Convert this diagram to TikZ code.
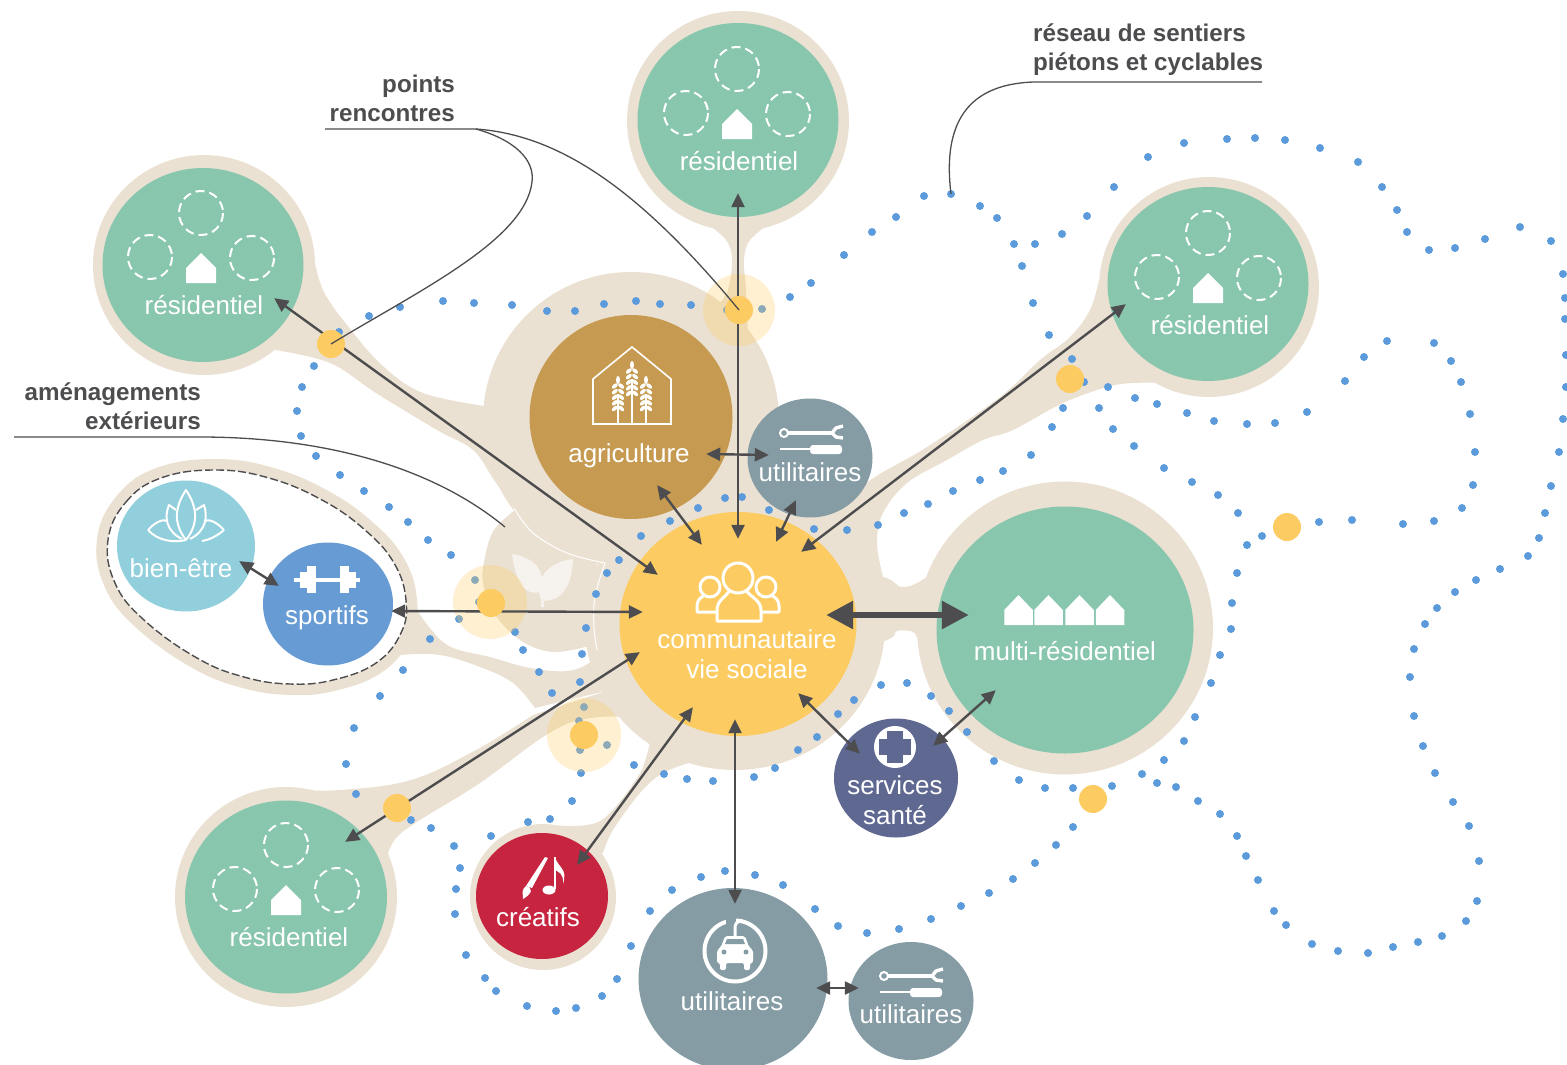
\documentclass[tikz,border=0pt]{standalone}
\usepackage{fontspec}
\setmainfont{Liberation Sans}
\usetikzlibrary{arrows.meta,shapes.geometric}

\definecolor{land}{HTML}{EBE1D2}
\definecolor{lawn}{HTML}{88C6AE}
\definecolor{sun}{HTML}{FCCC62}
\definecolor{farm}{HTML}{C69A50}
\definecolor{slate}{HTML}{859CA5}
\definecolor{navy}{HTML}{5E6891}
\definecolor{crimson}{HTML}{C7243F}
\definecolor{spa}{HTML}{92CFDD}
\definecolor{sport}{HTML}{669BD3}
\definecolor{trail}{HTML}{5B9BDC}
\definecolor{ink}{HTML}{4D4D4F}
\definecolor{leaf}{HTML}{F6F3EE}

\tikzset{
    disc/.style n args={3}{ellipse, inner sep=0pt, fill=#1, minimum width=#2pt, minimum height=#3pt},
    txt/.style={text=white, inner sep=0pt, align=center, font=\fontsize{26}{30}\selectfont},
    tag/.style={text=ink, inner sep=0pt, font=\fontsize{24.2}{29}\selectfont\bfseries},
    relay/.style={inner sep=0pt, minimum size=0pt},
    meet/.style={circle, inner sep=0pt, fill=sun, minimum size=28pt},
    both/.style={<->, >={Triangle[length=14pt,width=13pt]}, ink, line width=2.4pt},
    note/.style={ink, line width=1.3pt},
    house/.pic={\fill[white] (-15,14) -- (-15,-1) -- (0,-16) -- (15,-1) -- (15,14) -- cycle;},
    plots/.pic={
        \draw[white, line width=2pt, dash pattern=on 9pt off 5pt] (-1,-51) circle (22);
        \draw[white, line width=2pt, dash pattern=on 9pt off 5pt] (-52,-7) circle (22);
        \draw[white, line width=2pt, dash pattern=on 9pt off 5pt] (50,-6) circle (22);
        \pic at (-1,5) {house};
    },
    tools/.pic={
        \draw[white, line width=2pt] (-28,-8) circle (4);
        \draw[white, line width=4pt] (-24,-8) -- (21,-8);
        \draw[white, line width=3.4pt, line join=round] (31,-15) -- (24,-13) -- (20,-8) -- (24,-4) -- (31,-3);
        \draw[white, line width=2pt] (-32,8) -- (-2,8);
        \fill[white, rounded corners=3pt] (-2,4) rectangle (30,13);
    },
    wheat/.pic={
        \draw[white, line width=1.5pt] (0,-8) -- (0,22);
        \foreach \k in {0,...,4} {
            \fill[white, rotate around={40:(-3.2,-16+5.6*\k)}] (-3.2,-16+5.6*\k) ellipse [x radius=3.6, y radius=1.9];
            \fill[white, rotate around={-40:(3.2,-16+5.6*\k)}] (3.2,-16+5.6*\k) ellipse [x radius=3.6, y radius=1.9];
        }
        \fill[white] (0,-22) ellipse [x radius=2, y radius=4];
    },
}

\begin{document}
\begin{tikzpicture}[x=1pt, y=-1pt]
\useasboundingbox (0,0) rectangle (1567,1065);

    % land under the buildings
    \node[disc={land}{222}{220}] (resAlot) at (204,265) {};
    \node[disc={land}{222}{220}] (resBlot) at (738,121) {};
    \node[disc={land}{220}{220}] (resClot) at (1209,287) {};
    \node[disc={land}{222}{220}] (resDlot) at (286,897) {};
    \node[disc={land}{296}{293}] (multilot) at (1065,628) {};
    \node[disc={land}{296}{296}] (farmlot) at (631,420) {};
    \node[disc={land}{300}{290}] (commlot) at (735,625) {};
    \node[disc={land}{146}{146}] (creatlot) at (543,897) {};

    \fill[land] plot [smooth, tension=.6] coordinates {(312,247) (323,290) (351,330) (384,367) (423,393) (484,406)}
        -- (520,450) -- plot [smooth, tension=.6] coordinates {(514,508) (494,480) (473,450) (437,430) (376,393) (330,363) (275,350)} -- cycle;
    \fill[land] plot [smooth, tension=.6] coordinates {(705,222) (726,240) (732,260) (728,290) (718,305)}
        -- plot [smooth, tension=.6] coordinates {(748,335) (746,290) (744,260) (750,240) (772,222)} -- cycle;
    \fill[land] plot [smooth, tension=.6] coordinates {(1099,280) (1090,310) (1070,337) (1040,360) (1000,397) (927,447) (875,477) (830,510)}
        -- (820,590) -- plot [smooth, tension=.6] coordinates {(883,577) (877,543) (883,513) (907,483) (947,460) (983,440) (1013,430) (1063,403) (1107,387) (1133,383) (1170,383)} -- cycle;
    \fill[land] plot [smooth, tension=.7] coordinates {(830,570) (883,577) (903,587) (927,577) (945,560)}
        -- plot [smooth, tension=.7] coordinates {(945,650) (920,640) (913,632) (897,631) (887,640) (830,660)} -- cycle;
    \fill[land] plot [smooth, tension=.6] coordinates {(269,790) (340,790) (411,780) (476,750) (533,715)}
        -- (640,680) -- plot [smooth, tension=.6] coordinates {(650,738) (627,718) (580,720) (543,737) (480,783) (420,820) (397,837) (388,853)} -- (300,850) -- cycle;
    \fill[land] plot [smooth, tension=.6] coordinates {(547,825) (587,825) (610,813) (640,773) (650,742)}
        -- plot [smooth, tension=.6] coordinates {(692,762) (663,773) (640,793) (613,830) (603,853)} -- (560,860) -- cycle;
    \fill[land] plot [smooth, tension=.6] coordinates {(406,593) (429,627) (451,647) (490,657) (530,668) (567,671) (590,662) (593,647)}
        -- (610,690) -- plot [smooth, tension=.6] coordinates {(535,708) (513,683) (480,667) (440,655) (400,655) (380,660)} -- cycle;
    \fill[land] plot [smooth, tension=.6] coordinates {(515,510) (494,530) (485,557) (483,583) (494,613) (520,640) (553,652) (593,645)} -- (650,600) -- cycle;

    % loop around the wellness area
    \path[fill=white, preaction={draw=land, line width=22pt}, draw=ink, line width=1.4pt, dash pattern=on 8pt off 3pt]
        plot [smooth cycle, tension=.7] coordinates {(108,540) (126,502) (161,478) (215,470) (269,478) (322,500) (365,530) (394,563) (406,600) (401,633) (376,663) (333,680) (290,684) (244,677) (197,658) (144,620) (115,583)};

    \draw[white, line width=1pt] plot [smooth, tension=.6] coordinates {(514,508) (533,533) (567,553) (605,563)} -- plot [smooth, tension=.6] coordinates {(605,563) (595,597) (594,627) (597,650)};

    % leaves
    \fill[leaf] (512,554) .. controls (516,580) and (522,596) .. (541,592) .. controls (546,570) and (535,558) .. (512,554);
    \fill[leaf] (573,559) .. controls (548,562) and (533,580) .. (541,600) -- (541,607) -- (544,607) -- (544,601) .. controls (566,600) and (572,580) .. (573,559);

    % trail
    \foreach \x/\y in {369/316, 400/307, 443/301, 474/303, 512/305, 547/311, 575/311, 604/304, 636/301, 660/304, 691/305, 727/310, 762/309, 790/297, 811/283, 844/255, 872/232, 896/217, 924/196, 980/206, 997/218, 1014/244, 1035/244, 1062/234, 1087/216, 1114/187, 1148/157, 1184/143, 1227/139, 1255/138, 1285/140, 1320/148, 1358/162, 1382/187, 1397/210, 1407/232, 1429/250, 1455/248, 1485/239, 1520/227, 1551/241, 1563/274, 1565/298, 1565/319, 1566/355, 1566/387, 1563/419, 1559/452, 1551/486, 1545/513, 1539/538, 1528/556, 1500/569, 1476/580, 1455/592, 1437/608, 1425/624, 1414/649, 1410/677, 1414/716, 1423/746, 1435/773, 1453/802, 1469/826, 1479/861, 1477/901, 1466/921, 1442/936, 1418/942, 1393/947, 1368/953, 1338/951, 1312/944, 1286/925, 1274/911, 1258/880, 1246/856, 1237/836, 1220/814, 1198/801, 1176/787, 1157/783, 1142/774, 1164/760, 1184/741, 1195/717, 1211/683, 1220/655, 1231/629, 1232/603, 1237/573, 1247/545, 1262/536, 1319/522, 1352/520, 1403/524, 1434/521, 1462/508, 1473/485, 1475/452, 1470/414, 1461/382, 1451/361, 1434/343, 1387/341, 1364/357, 1345/381, 1307/412, 1275/423, 1247/424, 1214/421, 1187/413, 1157/404, 1135/398, 1108/387, 1084/382, 1072/359, 1049/335, 1033/303, 1022/266, 1063/408, 1099/408, 1052/427, 1113/429, 1134/446, 1164/468, 1192/482, 1218/495, 1238/513, 1031/455, 1003/471, 980/480, 953/491, 928/504, 904/513, 878/525, 847/530, 814/529, 769/510, 742/497, 725/498, 698/508, 670/521, 641/536, 619/560, 607/573, 596/594, 586/628, 582/654, 580/682, 552/693, 539/672, 523/650, 515/632, 459/619, 479/602, 475/580, 451/555, 428/540, 408/522, 389/507, 364/491, 340/475, 316/456, 301/436, 297/411, 302/387, 314/366, 339/332, 430/639, 403/670, 380/696, 354/728, 346/764, 356/794, 584/707, 579/721, 580/750, 607/745, 581/773, 634/765, 664/774, 687/779, 713/781, 754/777, 775/768, 798/750, 817/737, 838/714, 854/700, 881/685, 907/683, 931/696, 949/711, 967/732, 994/761, 1019/780, 1045/788, 1073/788, 1112/786, 1073/827, 1056/845, 1035/863, 1013/879, 989/893, 961/906, 931/919, 899/929, 867/933, 838/926, 815/909, 783/885, 755/875, 725/871, 701/877, 672/890, 650/911, 631/946, 617/979, 602/996, 576/1008, 556/1011, 527/1006, 496/991, 485/978, 466/955, 455/914, 456/889, 460/868, 454/846, 491/836, 528/822, 550/819, 572/801, 431/828, 411/820}
        \fill[trail] (\x,\y) circle (4);
    \node[circle, inner sep=0pt, fill=trail, minimum size=8pt] (trailstop) at (951,194) {};

    % halos
    \fill[sun, opacity=.3] (739,310) circle (36);
    \fill[sun, opacity=.3] (490,602) circle (37);
    \fill[sun, opacity=.3] (584,735) circle (37);

    % buildings
    \node[disc={lawn}{201}{194}] (resA) at (203,265) {};
    \node[disc={lawn}{201}{194}] (resB) at (738,120) {};
    \node[disc={lawn}{201}{194}] (resC) at (1208,284) {};
    \node[disc={lawn}{202}{193}] (resD) at (286,897) {};
    \node[disc={lawn}{257}{247}] (multi) at (1065,630) {};
    \node[disc={farm}{203}{204}] (farmhall) at (631,417) {};
    \node[disc={sun}{237}{224}] (comm) at (738,624) {};
    \node[disc={slate}{125}{119}] (toolsA) at (810,458) {};
    \node[disc={slate}{189}{182}] (garage) at (733,979) {};
    \node[disc={slate}{125}{118}] (toolsB) at (911,1001) {};
    \node[disc={navy}{124}{119}] (health) at (896,778) {};
    \node[disc={crimson}{132}{126}] (creat) at (542,896) {};
    \node[disc={spa}{138}{131}] (spa) at (186,546) {};
    \node[disc={sport}{130}{123}] (gym) at (328,604) {};

    % icons
    \pic at (202,264) {plots};
    \pic at (738,120) {plots};
    \pic at (1209,284) {plots};
    \pic at (287,896) {plots};
    \foreach \x in {1018.5,1048.5,1079.5,1110}
        \pic[xscale=.95] at (\x,611) {house};

    \draw[white, line width=1.6pt, line join=miter] (593,424) -- (593,379) -- (632,347) -- (671,379) -- (671,424) -- cycle;
    \pic at (618,402) {wheat};
    \pic at (632,387) {wheat};
    \draw[white, line width=1.5pt] (632,400) -- (632,424);
    \pic at (646,402) {wheat};
    \pic at (812,441) {tools};
    \pic at (912,984) {tools};

    \begin{scope}[white, line width=3pt, line join=round]
        \draw (710,587) circle (10);
        \draw (766,587) circle (10);
        \draw (717,612) -- (697,612) -- (697,606) .. controls (697,599) and (702,597) .. (705,595);
        \draw (759,612) -- (779,612) -- (779,606) .. controls (779,599) and (774,597) .. (771,595);
        \draw[fill=sun] (717,621) -- (717,610) .. controls (717,600) and (726,597) .. (730,590) -- (746,590) .. controls (750,597) and (761,600) .. (761,610) -- (761,621) -- cycle;
        \draw[fill=sun] (738,578) circle (15);
    \end{scope}

    \begin{scope}[white, line width=2pt, line join=round]
        \draw (186,540) .. controls (172,522) and (176,505) .. (186,490) .. controls (196,505) and (200,522) .. (186,540);
        \draw (182,539) .. controls (166,531) and (164,517) .. (169,505) -- (176,510);
        \draw (190,539) .. controls (206,531) and (208,517) .. (204,505) -- (196,510);
        \draw (148,530) .. controls (156,521) and (164,519) .. (167,521) (148,530) .. controls (158,541) and (174,543) .. (186,540);
        \draw (224,530) .. controls (216,521) and (208,519) .. (205,521) (224,530) .. controls (216,537) and (208,540) .. (202,541);
    \end{scope}

    % dumbbell
    \fill[white] (294,578) rectangle (360,582);
    \foreach \s in {-1,1} {
        \fill[white] (327.5+12*\s,566) rectangle (327.5+21*\s,593);
        \fill[white] (327.5+21*\s,572) rectangle (327.5+28*\s,588);
    }

    % cross
    \fill[white] (895,747) circle (21);
    \fill[navy] (887,731) rectangle (903,763);
    \fill[navy] (879,739) rectangle (911,755);

    % brush and note
    \fill[white] (545,857) -- (548,858) -- (532,888) -- (526,886) -- cycle;
    \fill[white] (526,886) .. controls (533,888) and (533,893) .. (523,899) .. controls (523,893) and (521,890) .. (526,886);
    \fill[white] (549,890) ellipse [x radius=6.5, y radius=4.5];
    \fill[white] (554,857) rectangle (556,889);
    \fill[white] (555,857) .. controls (558,868) and (568,868) .. (563,884) .. controls (564,873) and (558,872) .. (555,870) -- cycle;

    % car with plug
    \draw[white, line width=4pt] (735,951) circle (30.5);
    \fill[slate] (726,916) rectangle (736,926);
    \fill[white, rounded corners=2pt] (725,936) -- (745,936) -- (749,947) -- (753,950) -- (753,963) -- (750,963) -- (750,970) -- (744,970) -- (744,963) -- (726,963) -- (726,970) -- (720,970) -- (720,963) -- (717,963) -- (717,950) -- (721,947) -- cycle;
    \fill[slate] (727,939) -- (743,939) -- (745,944) -- (725,944) -- cycle;
    \fill[slate] (724,952) circle (2.5);
    \fill[slate] (746,952) circle (2.5);
    \draw[white, line width=3pt] (735,937) -- (735,929) .. controls (735,924) and (736,921) .. (743,921);

    % arrow ends
    \node[relay] (resAend) at (274,298) {};
    \node[relay] (commA) at (658,575) {};
    \node[relay] (resBend) at (738,193) {};
    \node[relay] (commB) at (738,539) {};
    \node[relay] (resCend) at (1126,304) {};
    \node[relay] (commC) at (801,552) {};
    \node[relay] (gymend) at (391,611) {};
    \node[relay] (commD) at (643,612) {};
    \node[relay] (resDend) at (345,842) {};
    \node[relay] (commE) at (640,652) {};
    \node[relay] (creatend) at (577,865) {};
    \node[relay] (commF) at (693,707) {};
    \node[relay] (garageend) at (735,904) {};
    \node[relay] (commG) at (735,719) {};
    \node[relay] (healthA) at (860,754) {};
    \node[relay] (commH) at (798,693) {};
    \node[relay] (healthB) at (933,746) {};
    \node[relay] (multiA) at (996,690) {};
    \node[relay] (commI) at (826,615) {};
    \node[relay] (multiB) at (969,615) {};
    \node[relay] (farmA) at (657,485) {};
    \node[relay] (commJ) at (702,545) {};
    \node[relay] (farmB) at (706,454) {};
    \node[relay] (toolsAa) at (769,455) {};
    \node[relay] (toolsAb) at (796,500) {};
    \node[relay] (commK) at (776,542) {};
    \node[relay] (spaend) at (239,561) {};
    \node[relay] (gymB) at (279,586) {};
    \node[relay] (garageB) at (816,988) {};
    \node[relay] (toolsBend) at (859,988) {};

    \draw[both] (resAend) -- (commA);
    \draw[both] (resBend) -- (commB);
    \draw[both] (resCend) -- (commC);
    \draw[both] (gymend) -- (commD);
    \draw[both] (resDend) -- (commE);
    \draw[both] (creatend) -- (commF);
    \draw[both] (garageend) -- (commG);
    \draw[both] (healthA) -- (commH);
    \draw[both] (healthB) -- (multiA);
    \draw[both, line width=6pt, >={Triangle[length=27pt,width=27pt]}] (commI) -- (multiB);
    \draw[both] (farmA) -- (commJ);
    \draw[both] (farmB) -- (toolsAa);
    \draw[both] (toolsAb) -- (commK);
    \draw[both] (spaend) -- (gymB);
    \draw[both] (garageB) -- (toolsBend);

    % meeting points
    \node[meet] (meetA) at (331,344) {};
    \node[meet] (meetB) at (739,310) {};
    \node[meet] (meetC) at (491,603) {};
    \node[meet] (meetD) at (584,735) {};
    \node[meet] (meetE) at (397,808) {};
    \node[meet] (meetF) at (1070,379) {};
    \node[meet] (meetG) at (1287,527) {};
    \node[meet] (meetH) at (1093,799) {};

    % texts
    \node[txt] (resAtxt) at (204,305) {résidentiel};
    \node[txt] (resBtxt) at (739,161) {résidentiel};
    \node[txt] (resCtxt) at (1210,325) {résidentiel};
    \node[txt] (resDtxt) at (289,937) {résidentiel};
    \node[txt] (multitxt) at (1065,651) {multi-résidentiel};
    \node[txt] (farmtxt) at (629,456) {agriculture};
    \node[txt] (commtxt) at (747,654) {communautaire\\vie sociale};
    \node[txt] (toolsAtxt) at (810,472) {utilitaires};
    \node[txt] (garagetxt) at (732,1001) {utilitaires};
    \node[txt] (toolsBtxt) at (911,1014) {utilitaires};
    \node[txt] (healthtxt) at (895,800) {services\\santé};
    \node[txt] (creattxt) at (538,917) {créatifs};
    \node[txt] (spatxt) at (181,568) {bien-être};
    \node[txt] (gymtxt) at (327,618) {sportifs};

    \node[tag, align=right, anchor=east] (pointstag) at (455,98) {points\\rencontres};
    \node[tag, align=right, anchor=east] (outdoortag) at (201,406) {aménagements\\extérieurs};
    \node[tag, align=left, anchor=west] (trailtag) at (1033,50) {réseau de sentiers\\piétons et cyclables};

    % call-outs
    \coordinate (pointsrule) at (325,129);
    \coordinate (pointsbend) at (476,129);
    \coordinate (outdoorrule) at (14,437);
    \coordinate (outdoorbend) at (200,437);
    \coordinate (gardenedge) at (505,527);
    \coordinate (trailrule) at (1262,82);
    \coordinate (trailbend) at (1033,82);

    \draw[note] (pointsrule) -- (pointsbend) .. controls (560,135) and (640,190) .. (meetB.center);
    \draw[note] (pointsbend) .. controls (515,140) and (535,160) .. (532,182) .. controls (525,240) and (420,290) .. (meetA.center);
    \draw[note] (outdoorrule) -- (outdoorbend) .. controls (320,437) and (430,465) .. (gardenedge);
    \draw[note] (trailrule) -- (trailbend) .. controls (985,84) and (940,105) .. (trailstop.center);

\end{tikzpicture}
\end{document}
